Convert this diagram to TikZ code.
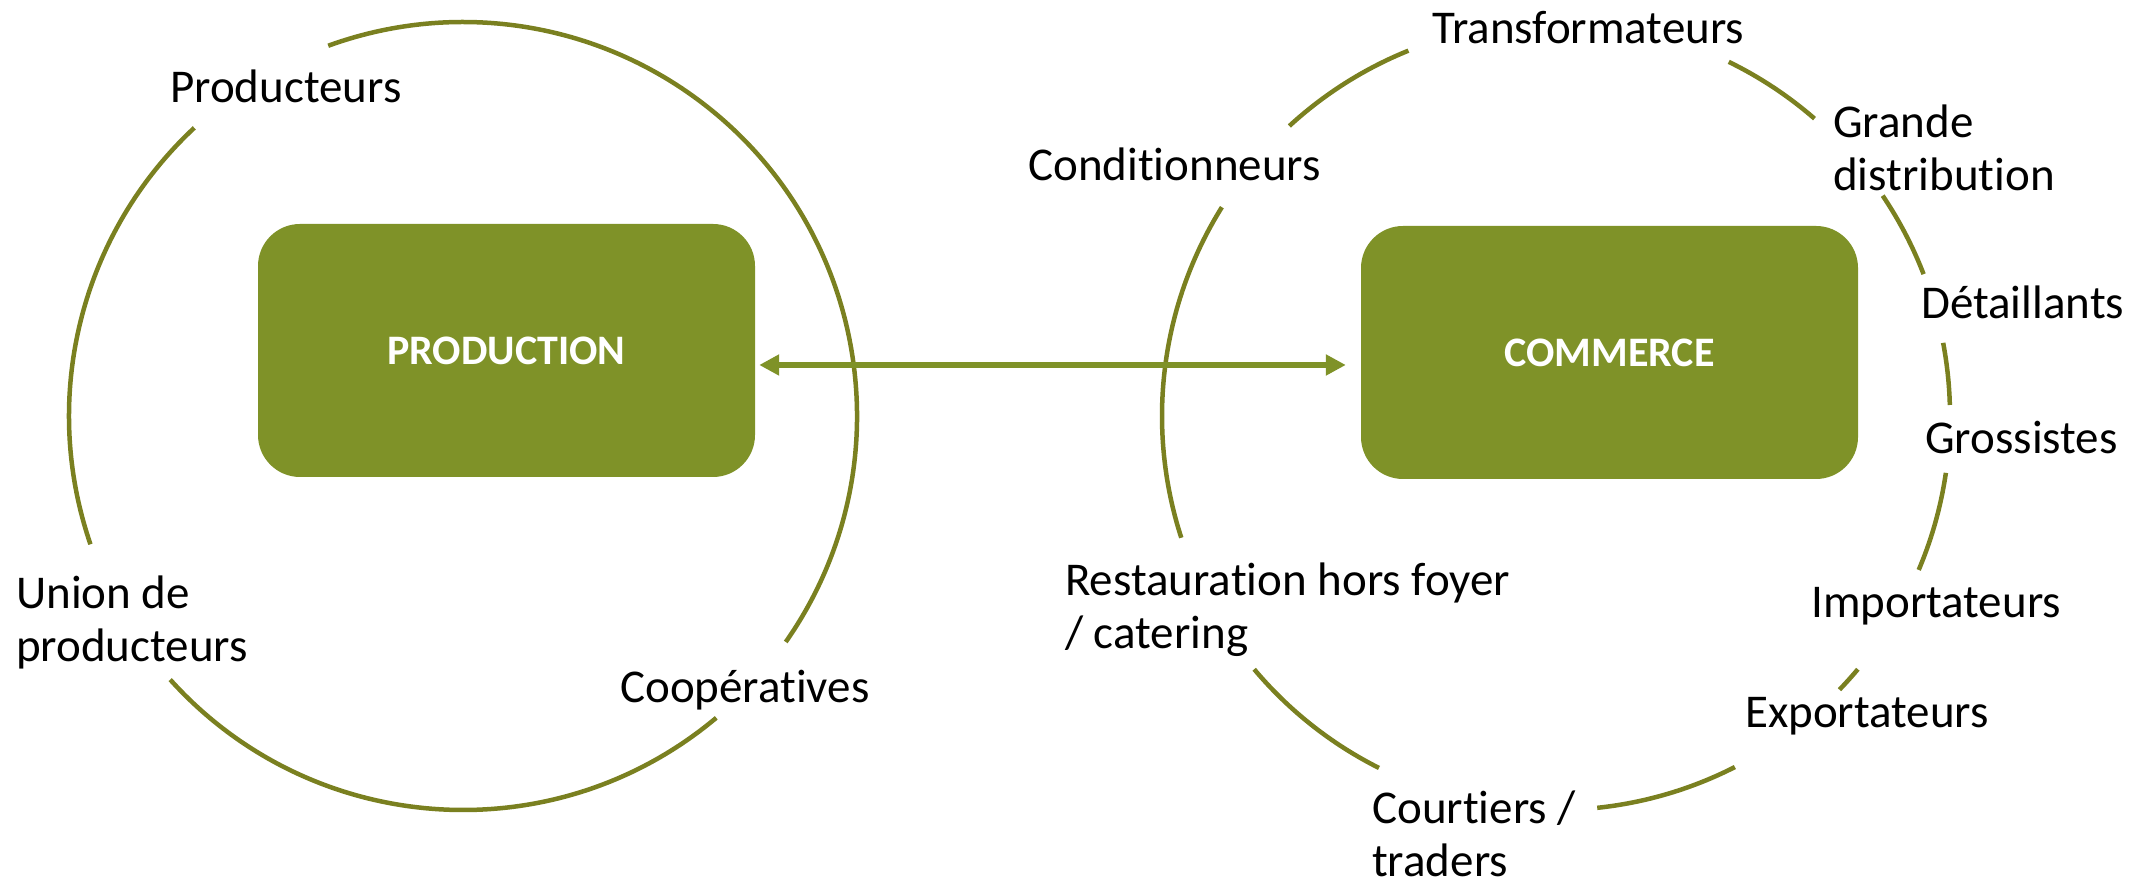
\documentclass[tikz,border=0pt]{standalone}
\usepackage{fontspec}
\setmainfont{Carlito}[Ligatures=NoCommon]
\usetikzlibrary{arrows.meta}
\definecolor{boxgreen}{HTML}{7F9228}
\definecolor{ringgreen}{HTML}{7A8020}
\newcommand\labtop{\rule{0pt}{38pt}}
\begin{document}
\begin{tikzpicture}[x=1pt,y=1pt,
  ring/.style={draw=ringgreen, line width=4.5pt},
  bigbox/.style={fill=boxgreen, rounded corners=42pt, minimum width=497pt, minimum height=253pt, inner sep=0pt, text=white, font=\bfseries\fontsize{42}{50}\selectfont},
  lab/.style={anchor=north west, inner sep=0pt, align=left, font=\fontsize{47}{53}\selectfont},
  arr/.style={{Triangle[length=20pt,width=20pt]}-{Triangle[length=20pt,width=20pt]}, draw=boxgreen, line width=6pt, shorten <=4pt, shorten >=15pt}]
\useasboundingbox (0,0) rectangle (2151,890);
\coordinate (lc) at (463,474);
\coordinate (rc) at (1556,474);
% left ring
\draw[ring] (lc) ++(-35:394) arc[start angle=-35,end angle=110,radius=394];
\draw[ring] (lc) ++(133:394) arc[start angle=133,end angle=199,radius=394];
\draw[ring] (lc) ++(222:394) arc[start angle=222,end angle=310,radius=394];
% right ring
\draw[ring] (rc) ++(49:394) arc[start angle=49,end angle=64,radius=394];
\draw[ring] (rc) ++(112:394) arc[start angle=112,end angle=132.6,radius=394];
\draw[ring] (rc) ++(148:394) arc[start angle=148,end angle=198,radius=394];
\draw[ring] (rc) ++(220:394) arc[start angle=220,end angle=243.3,radius=394];
\draw[ring] (rc) ++(276:394) arc[start angle=276,end angle=297,radius=394];
\draw[ring] (rc) ++(316:394) arc[start angle=316,end angle=320,radius=394];
\draw[ring] (rc) ++(337:394) arc[start angle=337,end angle=351.7,radius=394];
\draw[ring] (rc) ++(1.6:394) arc[start angle=1.6,end angle=10.7,radius=394];
\draw[ring] (rc) ++(21.1:394) arc[start angle=21.1,end angle=34,radius=394];
% boxes
\node[bigbox] (prod) at (506.5,539.5) {PRODUCTION};
\node[bigbox] (comm) at (1609.5,537.5) {COMMERCE};
\draw[arr] ([yshift=-14.5pt]prod.east) -- ([yshift=-12.5pt]comm.west);
% labels
\node[lab] (l1) at (170,826) {\labtop Producteurs};
\node[lab] (l2) at (16,320) {\labtop Union de\\producteurs};
\node[lab] (l3) at (620,226) {\labtop Coopératives};
\node[lab] (r1) at (1028,748) {\labtop Conditionneurs};
\node[lab] (r2) at (1432,885) {\labtop Transformateurs};
\node[lab] (r3) at (1833,791) {\labtop Grande\\distribution};
\node[lab] (r4) at (1921,610) {\labtop Détaillants};
\node[lab] (r5) at (1925,475) {\labtop Grossistes};
\node[lab] (r6) at (1811,311) {\labtop Importateurs};
\node[lab] (r7) at (1745,201) {\labtop Exportateurs};
\node[lab] (r8) at (1372,105) {\labtop Courtiers /\\traders};
\node[lab] (r9) at (1065,333) {\labtop Restauration hors foyer\\/ catering};
\end{tikzpicture}
\end{document}
